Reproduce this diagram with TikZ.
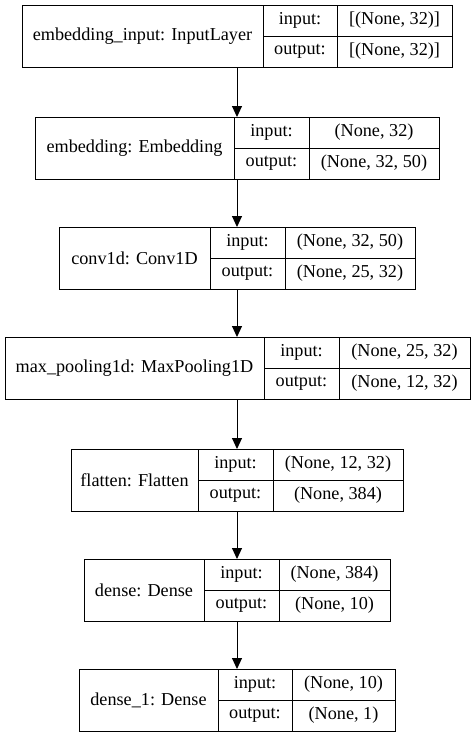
\documentclass[tikz,border=0pt]{standalone}
\usepackage{fontspec}
\setmainfont{Liberation Serif}
\usetikzlibrary{arrows.meta}

\tikzset{
  layerbox/.style={draw, line width=1pt, rectangle, inner sep=0pt, anchor=north west},
  cellrule/.style={line width=1pt},
  celltext/.style={inner sep=0pt, font=\fontsize{18.2}{20}\selectfont},
  flow/.style={line width=1pt, -{Triangle[length=11pt,width=10pt]}}
}

% #1 name, #2 left, #3 first divider, #4 second divider, #5 right,
% #6 top, #7 layer title, #8 input shape, #9 output shape
\newcommand\kerlayer[9]{%
  \node[layerbox, minimum width={#5pt-#2pt}, minimum height=62pt] (#1) at (#2,#6) {};
  \draw[cellrule] (#3,#6) -- (#3,{#6+62});
  \draw[cellrule] (#4,#6) -- (#4,{#6+62});
  \draw[cellrule] (#3,{#6+31}) -- (#5,{#6+31});
  \node[celltext] (#1-title) at ({(#2+#3)/2},{#6+31}) {#7};
  \node[celltext] (#1-inlbl) at ({(#3+#4)/2},{#6+15.5}) {input:};
  \node[celltext] (#1-outlbl) at ({(#3+#4)/2},{#6+46.5}) {output:};
  \node[celltext] (#1-in) at ({(#4+#5)/2},{#6+15.5}) {#8};
  \node[celltext] (#1-out) at ({(#4+#5)/2},{#6+46.5}) {#9};
}

\begin{document}
\begin{tikzpicture}[x=1pt,y=-1pt]
  \useasboundingbox (0,0) rectangle (475,737);

  % vertical line along which the data flows
  \coordinate (spine) at (237,0);

  \kerlayer{inp}{22}{263}{337}{452}{5}{embedding\_input: InputLayer}{[(None, 32)]}{[(None, 32)]}
  \kerlayer{emb}{35}{234}{309}{439}{117}{embedding: Embedding}{(None, 32)}{(None, 32, 50)}
  \kerlayer{conv}{59}{210}{285}{415}{227}{conv1d: Conv1D}{(None, 32, 50)}{(None, 25, 32)}
  \kerlayer{pool}{5}{264}{339}{470}{337}{max\_pooling1d: MaxPooling1D}{(None, 25, 32)}{(None, 12, 32)}
  \kerlayer{flat}{71}{198}{273}{403}{449}{flatten: Flatten}{(None, 12, 32)}{(None, 384)}
  \kerlayer{dense}{84}{204}{279}{390}{559}{dense: Dense}{(None, 384)}{(None, 10)}
  \kerlayer{denseb}{79}{218}{292}{395}{669}{dense\_1: Dense}{(None, 10)}{(None, 1)}

  \draw[flow] (inp.south -| spine) -- (emb.north -| spine);
  \draw[flow] (emb.south -| spine) -- (conv.north -| spine);
  \draw[flow] (conv.south -| spine) -- (pool.north -| spine);
  \draw[flow] (pool.south -| spine) -- (flat.north -| spine);
  \draw[flow] (flat.south -| spine) -- (dense.north -| spine);
  \draw[flow] (dense.south -| spine) -- (denseb.north -| spine);
\end{tikzpicture}
\end{document}
